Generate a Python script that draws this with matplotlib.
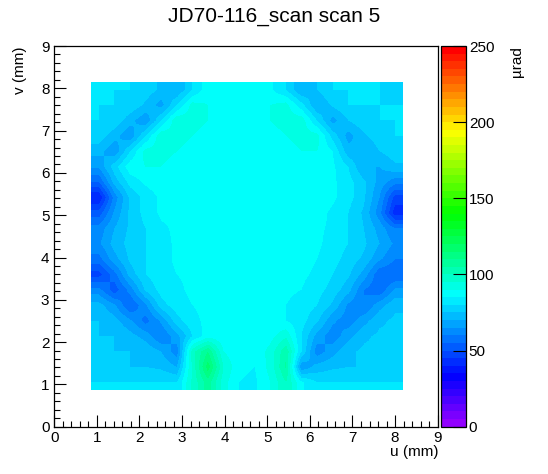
import colorsys
import numpy as np
import matplotlib
matplotlib.use("Agg")
import matplotlib.pyplot as plt
from matplotlib.colors import ListedColormap, BoundaryNorm

plt.rcParams['font.family'] = ['Liberation Sans', 'DejaVu Sans']

# scan area (mm)
u_range = [0.86, 8.18]
v_range = [0.87, 8.13]

# deflection map in µrad, rows from top (v = 8.13) down to bottom (v = 0.87),
# columns from u = 0.86 to u = 8.18 on a 20 x 20 grid
angle = np.array([
    [80, 80, 80, 78, 74, 70, 80, 88, 88, 88, 88, 86, 80, 70, 75, 80, 80, 80, 80, 78],
    [80, 80, 79, 74, 68, 80, 92, 90, 88, 88, 88, 90, 92, 82, 70, 76, 80, 80, 80, 80],
    [80, 79, 72, 66, 80, 94, 92, 90, 88, 88, 88, 90, 92, 93, 80, 68, 75, 79, 80, 80],
    [78, 72, 66, 80, 94, 92, 90, 88, 88, 88, 88, 88, 90, 92, 92, 78, 68, 74, 78, 80],
    [72, 66, 80, 92, 92, 90, 88, 88, 88, 88, 88, 88, 88, 90, 90, 85, 72, 70, 75, 78],
    [66, 78, 88, 90, 90, 88, 88, 88, 88, 88, 88, 88, 88, 88, 88, 86, 80, 70, 70, 74],
    [55, 72, 82, 86, 88, 88, 88, 88, 88, 88, 88, 88, 88, 88, 88, 86, 82, 76, 68, 62],
    [40, 62, 76, 82, 86, 88, 88, 88, 88, 88, 88, 88, 88, 88, 88, 86, 82, 76, 65, 48],
    [52, 66, 76, 82, 86, 87, 88, 88, 88, 88, 88, 88, 88, 88, 87, 84, 80, 74, 62, 42],
    [62, 70, 76, 80, 84, 86, 87, 88, 88, 88, 88, 88, 88, 88, 86, 84, 80, 75, 68, 60],
    [64, 72, 77, 80, 83, 86, 87, 88, 88, 88, 88, 88, 88, 87, 86, 83, 80, 76, 70, 64],
    [58, 68, 76, 80, 83, 86, 87, 88, 88, 88, 88, 88, 88, 87, 85, 82, 78, 74, 66, 60],
    [48, 58, 72, 80, 83, 85, 86, 87, 88, 88, 88, 88, 87, 86, 84, 80, 76, 68, 56, 55],
    [62, 52, 62, 76, 82, 84, 86, 87, 88, 88, 88, 88, 86, 85, 82, 78, 72, 60, 56, 66],
    [72, 66, 55, 64, 78, 83, 85, 86, 87, 88, 88, 87, 85, 83, 80, 74, 64, 60, 68, 74],
    [75, 72, 66, 58, 66, 78, 84, 86, 87, 88, 88, 87, 85, 82, 76, 66, 62, 68, 74, 76],
    [75, 75, 72, 68, 60, 68, 80, 88, 86, 86, 86, 88, 94, 80, 68, 62, 68, 74, 76, 76],
    [75, 75, 75, 74, 70, 62, 98, 110, 90, 86, 86, 92, 104, 80, 62, 68, 74, 76, 76, 76],
    [75, 75, 75, 75, 74, 70, 96, 118, 95, 86, 85, 92, 106, 66, 72, 74, 75, 75, 75, 75],
    [80, 80, 80, 80, 80, 80, 96, 108, 92, 85, 84, 90, 100, 86, 80, 80, 80, 80, 80, 80],
])

z_min, z_max = 0, 250
n_levels = 50

# ROOT "pretty" palette: 49 hues from violet down to orange, last one red
colors = [colorsys.hls_to_rgb((280 - (i + 1) * 280 / 50) / 360, 0.5, 1.0) for i in range(n_levels - 1)]
colors.append((1.0, 0.0, 0.0))
cmap = ListedColormap(colors)
norm = BoundaryNorm(np.linspace(z_min, z_max, n_levels + 1), cmap.N)

W, H = 548, 474
fig = plt.figure(figsize=(W / 100, H / 100), dpi=100)
ax = fig.add_axes([54.3 / W, 47.3 / H, 383.4 / W, 380.7 / H])
cax = fig.add_axes([441 / W, 47.3 / H, 25 / W, 380.7 / H])

im = ax.imshow(angle, cmap=cmap, norm=norm, origin='upper', aspect='auto',
               extent=[u_range[0], u_range[1], v_range[0], v_range[1]],
               interpolation='bilinear')

ax.set_xlim(0, 9)
ax.set_ylim(0, 9)
ax.set_xticks(np.arange(0, 10, 1))
ax.set_yticks(np.arange(0, 10, 1))
ax.set_xticks(np.arange(0, 9.01, 0.2), minor=True)
ax.set_yticks(np.arange(0, 9.01, 0.2), minor=True)
ax.tick_params(which='both', direction='in', top=False, right=False, width=0.8, labelsize=11)
ax.tick_params(which='major', length=8.5)
ax.tick_params(which='minor', length=4.5)
ax.tick_params(axis='x', pad=3)
ax.tick_params(axis='y', pad=3.5)
for s in ax.spines.values():
    s.set_linewidth(0.9)

cb = fig.colorbar(im, cax=cax, ticks=[0, 50, 100, 150, 200, 250])
cb.outline.set_linewidth(0.9)
cax.tick_params(direction='in', length=9.5, width=0.8, labelsize=11, pad=2)
cax.minorticks_off()

fig.text(274 / W, 1 - 17 / H, 'JD70-116_scan scan 5', ha='center', va='center', fontsize=15)
fig.text(438 / W, 1 - 452 / H, 'u (mm)', ha='right', va='center', fontsize=11)
fig.text(20 / W, 1 - 46 / H, 'v (mm)', ha='center', va='top', rotation=90, fontsize=11)
fig.text(517 / W, 1 - 46 / H, 'µrad', ha='center', va='top', rotation=90, fontsize=11)

fig.savefig('out.png', dpi=100)
